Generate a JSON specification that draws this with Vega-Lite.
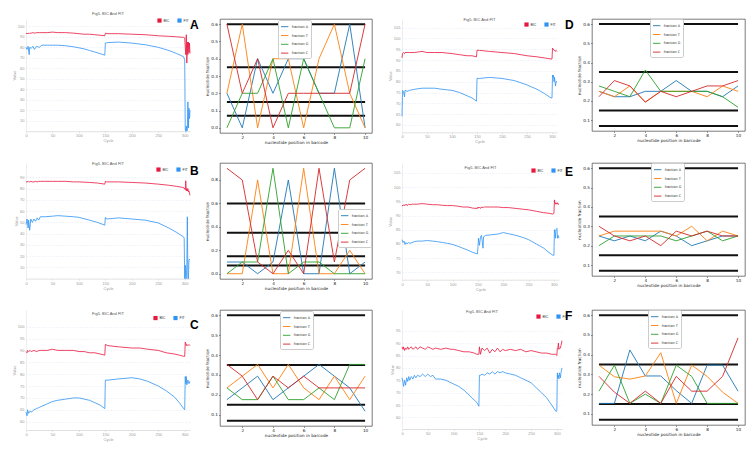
{
"$schema": "https://vega.github.io/schema/vega-lite/v6.json",
"background": "white",
"padding": {"left": 12, "top": 12, "right": 0, "bottom": 0},
"config": {"view": {"stroke": null}, "font": "DejaVu Sans", "axis": {"labelOverlap": false, "labelFlush": false}},
"datasets": {
"hl": [{"h": 0.6, "x1": 1, "x2": 10}, {"h": 0.35, "x1": 1, "x2": 10}, {"h": 0.15, "x1": 1, "x2": 10}, {"h": 0.07, "x1": 1, "x2": 10}],
"fracA": [{"pos":1,"A":0.2,"T":0.2,"G":0,"C":0.6},{"pos":2,"A":0,"T":0.6,"G":0.2,"C":0.2},{"pos":3,"A":0.4,"T":0,"G":0.2,"C":0.4},{"pos":4,"A":0.2,"T":0.4,"G":0.4,"C":0},{"pos":5,"A":0.4,"T":0.4,"G":0,"C":0.2},{"pos":6,"A":0.4,"T":0,"G":0.4,"C":0.2},{"pos":7,"A":0.2,"T":0.4,"G":0.2,"C":0.2},{"pos":8,"A":0.2,"T":0.6,"G":0,"C":0.2},{"pos":9,"A":0.6,"T":0.2,"G":0,"C":0.2},{"pos":10,"A":0,"T":0,"G":0.4,"C":0.6}],
"fracB": [{"pos":1,"A":0.1,"T":0,"G":0,"C":0.9},{"pos":2,"A":0.1,"T":0,"G":0.1,"C":0.8},{"pos":3,"A":0,"T":0.8,"G":0.1,"C":0.1},{"pos":4,"A":0.1,"T":0,"G":0.9,"C":0},{"pos":5,"A":0.8,"T":0,"G":0,"C":0.2},{"pos":6,"A":0,"T":0.9,"G":0.1,"C":0},{"pos":7,"A":0,"T":0,"G":0.1,"C":0.9},{"pos":8,"A":0.9,"T":0,"G":0,"C":0.1},{"pos":9,"A":0,"T":0.2,"G":0,"C":0.8},{"pos":10,"A":0.1,"T":0,"G":0,"C":0.9}],
"fracC": [{"pos":1,"A":0.176,"T":0.235,"G":0.235,"C":0.353},{"pos":2,"A":0.235,"T":0.294,"G":0.176,"C":0.294},{"pos":3,"A":0.294,"T":0.353,"G":0.176,"C":0.176},{"pos":4,"A":0.176,"T":0.235,"G":0.294,"C":0.294},{"pos":5,"A":0.235,"T":0.353,"G":0.176,"C":0.235},{"pos":6,"A":0.294,"T":0.235,"G":0.176,"C":0.294},{"pos":7,"A":0.353,"T":0.176,"G":0.235,"C":0.235},{"pos":8,"A":0.294,"T":0.294,"G":0.176,"C":0.235},{"pos":9,"A":0.235,"T":0.176,"G":0.353,"C":0.235},{"pos":10,"A":0.118,"T":0.294,"G":0.353,"C":0.235}],
"fracD": [{"pos":1,"A":0.25,"T":0.25,"G":0.278,"C":0.222},{"pos":2,"A":0.222,"T":0.222,"G":0.25,"C":0.306},{"pos":3,"A":0.222,"T":0.278,"G":0.222,"C":0.278},{"pos":4,"A":0.25,"T":0.194,"G":0.361,"C":0.194},{"pos":5,"A":0.25,"T":0.25,"G":0.25,"C":0.25},{"pos":6,"A":0.306,"T":0.25,"G":0.25,"C":0.222},{"pos":7,"A":0.25,"T":0.25,"G":0.25,"C":0.25},{"pos":8,"A":0.25,"T":0.222,"G":0.25,"C":0.278},{"pos":9,"A":0.222,"T":0.278,"G":0.222,"C":0.278},{"pos":10,"A":0.278,"T":0.25,"G":0.167,"C":0.306}],
"fracE": [{"pos":1,"A":0.25,"T":0.25,"G":0.2,"C":0.3},{"pos":2,"A":0.225,"T":0.275,"G":0.25,"C":0.25},{"pos":3,"A":0.25,"T":0.275,"G":0.25,"C":0.225},{"pos":4,"A":0.225,"T":0.275,"G":0.25,"C":0.25},{"pos":5,"A":0.275,"T":0.275,"G":0.25,"C":0.2},{"pos":6,"A":0.25,"T":0.25,"G":0.225,"C":0.275},{"pos":7,"A":0.2,"T":0.3,"G":0.25,"C":0.25},{"pos":8,"A":0.225,"T":0.225,"G":0.275,"C":0.275},{"pos":9,"A":0.25,"T":0.275,"G":0.225,"C":0.25},{"pos":10,"A":0.25,"T":0.25,"G":0.25,"C":0.25}],
"fracF": [{"pos":1,"A":0.153,"T":0.347,"G":0.215,"C":0.29},{"pos":2,"A":0.153,"T":0.288,"G":0.347,"C":0.21},{"pos":3,"A":0.424,"T":0.276,"G":0.153,"C":0.153},{"pos":4,"A":0.292,"T":0.292,"G":0.2,"C":0.215},{"pos":5,"A":0.292,"T":0.41,"G":0.153,"C":0.153},{"pos":6,"A":0.218,"T":0.153,"G":0.347,"C":0.29},{"pos":7,"A":0.153,"T":0.347,"G":0.29,"C":0.215},{"pos":8,"A":0.347,"T":0.29,"G":0.153,"C":0.215},{"pos":9,"A":0.347,"T":0.21,"G":0.153,"C":0.29},{"pos":10,"A":0.215,"T":0.153,"G":0.153,"C":0.485}],
"lineA": [{"c":0,"BIC":93.5,"FIT":80},{"c":2,"BIC":93,"FIT":78},{"c":4,"BIC":93.5,"FIT":81},{"c":6,"BIC":93,"FIT":73},{"c":7,"BIC":93.5,"FIT":80},{"c":10,"BIC":93.5,"FIT":79},{"c":13,"BIC":94,"FIT":81},{"c":16,"BIC":93.5,"FIT":78},{"c":20,"BIC":94,"FIT":81},{"c":25,"BIC":94,"FIT":80},{"c":30,"BIC":94,"FIT":82},{"c":40,"BIC":94,"FIT":82},{"c":50,"BIC":94.5,"FIT":82},{"c":60,"BIC":94,"FIT":82},{"c":75,"BIC":94,"FIT":81.5},{"c":90,"BIC":93.5,"FIT":80.5},{"c":100,"BIC":93,"FIT":79.5},{"c":110,"BIC":92.5,"FIT":78.5},{"c":120,"BIC":92.5,"FIT":77},{"c":130,"BIC":92,"FIT":75.5},{"c":140,"BIC":91.5,"FIT":74},{"c":149,"BIC":91,"FIT":72.5},{"c":150,"BIC":93.5,"FIT":84},{"c":155,"BIC":93,"FIT":84.5},{"c":175,"BIC":93,"FIT":85},{"c":200,"BIC":92.5,"FIT":84},{"c":225,"BIC":92,"FIT":82.5},{"c":250,"BIC":91,"FIT":80},{"c":270,"BIC":90.5,"FIT":77},{"c":285,"BIC":90,"FIT":74},{"c":298,"BIC":89.5,"FIT":71},{"c":300,"BIC":89,"FIT":68},{"c":301,"BIC":80,"FIT":2},{"c":302,"BIC":73,"FIT":0},{"c":303,"BIC":92,"FIT":5},{"c":304,"BIC":65,"FIT":0},{"c":305,"BIC":85,"FIT":1},{"c":306,"BIC":73,"FIT":28},{"c":307,"BIC":85,"FIT":3},{"c":308,"BIC":75,"FIT":22},{"c":309,"BIC":84,"FIT":12},{"c":310,"BIC":74,"FIT":20}],
"lineB": [{"c":0,"BIC":86,"FIT":48},{"c":2,"BIC":86,"FIT":53},{"c":4,"BIC":86.5,"FIT":45},{"c":5,"BIC":86,"FIT":52},{"c":7,"BIC":86,"FIT":43},{"c":9,"BIC":86.5,"FIT":53},{"c":12,"BIC":86,"FIT":50},{"c":15,"BIC":86,"FIT":53},{"c":18,"BIC":86.5,"FIT":51},{"c":21,"BIC":86,"FIT":54},{"c":24,"BIC":86.5,"FIT":52},{"c":27,"BIC":86.5,"FIT":55},{"c":35,"BIC":86.5,"FIT":55},{"c":50,"BIC":86.5,"FIT":55.5},{"c":60,"BIC":86.5,"FIT":56},{"c":75,"BIC":86.5,"FIT":55.5},{"c":90,"BIC":86,"FIT":55},{"c":100,"BIC":86,"FIT":54.5},{"c":120,"BIC":85.5,"FIT":52},{"c":135,"BIC":85,"FIT":50},{"c":149,"BIC":84,"FIT":47.5},{"c":150,"BIC":86.5,"FIT":54.5},{"c":152,"BIC":86,"FIT":53},{"c":175,"BIC":86,"FIT":54},{"c":200,"BIC":85.5,"FIT":53},{"c":225,"BIC":85,"FIT":52},{"c":250,"BIC":84,"FIT":49.5},{"c":270,"BIC":83,"FIT":45},{"c":285,"BIC":82,"FIT":41},{"c":298,"BIC":81,"FIT":37},{"c":299,"BIC":80,"FIT":36},{"c":300,"BIC":80.5,"FIT":0},{"c":301,"BIC":79,"FIT":12},{"c":302,"BIC":87,"FIT":0},{"c":303,"BIC":78,"FIT":0},{"c":304,"BIC":80,"FIT":12},{"c":305,"BIC":78,"FIT":55},{"c":306,"BIC":80,"FIT":0},{"c":307,"BIC":77,"FIT":0},{"c":308,"BIC":78,"FIT":17},{"c":310,"BIC":74,"FIT":17}],
"lineC": [{"c":0,"BIC":89.5,"FIT":64},{"c":2,"BIC":89,"FIT":62.5},{"c":3,"BIC":90,"FIT":65},{"c":5,"BIC":89.5,"FIT":63.5},{"c":8,"BIC":90,"FIT":64.5},{"c":10,"BIC":89.5,"FIT":64},{"c":15,"BIC":90,"FIT":65},{"c":20,"BIC":89.5,"FIT":65.5},{"c":25,"BIC":90,"FIT":66},{"c":30,"BIC":90,"FIT":66.5},{"c":40,"BIC":90,"FIT":67.5},{"c":50,"BIC":90.5,"FIT":68.5},{"c":60,"BIC":90,"FIT":69},{"c":75,"BIC":90,"FIT":69.5},{"c":90,"BIC":90,"FIT":70},{"c":100,"BIC":89.5,"FIT":70},{"c":110,"BIC":89.5,"FIT":69.5},{"c":120,"BIC":89,"FIT":69},{"c":130,"BIC":89,"FIT":68},{"c":140,"BIC":88.5,"FIT":67},{"c":149,"BIC":88,"FIT":65.5},{"c":150,"BIC":92.5,"FIT":77.5},{"c":155,"BIC":92,"FIT":77.5},{"c":175,"BIC":91.5,"FIT":78},{"c":200,"BIC":91,"FIT":78.5},{"c":215,"BIC":91,"FIT":78},{"c":230,"BIC":90.5,"FIT":77},{"c":250,"BIC":90,"FIT":75},{"c":265,"BIC":89,"FIT":73},{"c":280,"BIC":88.5,"FIT":70.5},{"c":290,"BIC":88,"FIT":68},{"c":298,"BIC":87.5,"FIT":65.5},{"c":300,"BIC":87.5,"FIT":65},{"c":301,"BIC":93.5,"FIT":79},{"c":302,"BIC":93,"FIT":76},{"c":303,"BIC":92,"FIT":79},{"c":304,"BIC":92.5,"FIT":75.5},{"c":306,"BIC":92,"FIT":77.5},{"c":308,"BIC":92.5,"FIT":76},{"c":310,"BIC":92,"FIT":77}],
"lineD": [{"c":0,"BIC":91,"FIT":64},{"c":1,"BIC":93,"FIT":76},{"c":3,"BIC":93.5,"FIT":75.5},{"c":5,"BIC":93,"FIT":73},{"c":6,"BIC":93.5,"FIT":76},{"c":10,"BIC":93.5,"FIT":75.5},{"c":15,"BIC":93.5,"FIT":76},{"c":25,"BIC":93.5,"FIT":76.5},{"c":40,"BIC":94,"FIT":77},{"c":50,"BIC":93.5,"FIT":77},{"c":65,"BIC":93.5,"FIT":77},{"c":80,"BIC":93.5,"FIT":76.5},{"c":100,"BIC":93,"FIT":76},{"c":115,"BIC":92.5,"FIT":75},{"c":130,"BIC":92,"FIT":73.5},{"c":140,"BIC":92,"FIT":72.5},{"c":149,"BIC":91.5,"FIT":71},{"c":150,"BIC":94.5,"FIT":81.5},{"c":155,"BIC":94.5,"FIT":81.5},{"c":175,"BIC":94,"FIT":82},{"c":200,"BIC":93.5,"FIT":81.5},{"c":225,"BIC":93,"FIT":80.5},{"c":250,"BIC":92,"FIT":78.5},{"c":270,"BIC":91.5,"FIT":76.5},{"c":285,"BIC":91,"FIT":74.5},{"c":298,"BIC":90.5,"FIT":72.5},{"c":300,"BIC":90.5,"FIT":72.5},{"c":301,"BIC":95.5,"FIT":83},{"c":302,"BIC":95,"FIT":82},{"c":303,"BIC":95,"FIT":83},{"c":304,"BIC":94.5,"FIT":80},{"c":305,"BIC":94.5,"FIT":82},{"c":307,"BIC":94,"FIT":78},{"c":308,"BIC":94.5,"FIT":80},{"c":310,"BIC":94,"FIT":80}],
"lineE": [{"c":0,"BIC":93.5,"FIT":81.5},{"c":2,"BIC":93.5,"FIT":80.5},{"c":4,"BIC":93.8,"FIT":81},{"c":6,"BIC":93.5,"FIT":79.8},{"c":8,"BIC":94,"FIT":80.5},{"c":10,"BIC":93.5,"FIT":80},{"c":13,"BIC":94,"FIT":80.5},{"c":16,"BIC":93.8,"FIT":80.2},{"c":20,"BIC":94,"FIT":80.5},{"c":25,"BIC":94,"FIT":80.8},{"c":30,"BIC":94,"FIT":81},{"c":40,"BIC":94.2,"FIT":81},{"c":50,"BIC":94,"FIT":81.2},{"c":60,"BIC":93.8,"FIT":81},{"c":70,"BIC":93.8,"FIT":80.8},{"c":80,"BIC":93.6,"FIT":80.5},{"c":90,"BIC":93.5,"FIT":80.2},{"c":100,"BIC":93.5,"FIT":79.8},{"c":110,"BIC":93.3,"FIT":79.2},{"c":120,"BIC":93,"FIT":78.5},{"c":130,"BIC":93,"FIT":77.8},{"c":140,"BIC":92.6,"FIT":77},{"c":149,"BIC":92.5,"FIT":76.5},{"c":150,"BIC":93,"FIT":79},{"c":151,"BIC":92.6,"FIT":82},{"c":153,"BIC":93,"FIT":79.5},{"c":155,"BIC":92.5,"FIT":82.5},{"c":157,"BIC":93,"FIT":83},{"c":160,"BIC":92.8,"FIT":78.5},{"c":161,"BIC":93,"FIT":82.5},{"c":165,"BIC":93,"FIT":83},{"c":175,"BIC":93,"FIT":83.2},{"c":190,"BIC":93,"FIT":83.5},{"c":200,"BIC":92.8,"FIT":84},{"c":210,"BIC":92.8,"FIT":83.6},{"c":225,"BIC":92.5,"FIT":83},{"c":240,"BIC":92.2,"FIT":82.2},{"c":250,"BIC":92,"FIT":81.5},{"c":265,"BIC":91.5,"FIT":80},{"c":280,"BIC":91,"FIT":78.5},{"c":290,"BIC":90.8,"FIT":77},{"c":298,"BIC":90.5,"FIT":76},{"c":300,"BIC":90.8,"FIT":76},{"c":301,"BIC":95.5,"FIT":85},{"c":302,"BIC":94.5,"FIT":84},{"c":303,"BIC":94,"FIT":82},{"c":304,"BIC":94.5,"FIT":85},{"c":306,"BIC":94,"FIT":85.5},{"c":307,"BIC":94.5,"FIT":82},{"c":308,"BIC":94,"FIT":83},{"c":310,"BIC":94,"FIT":82}],
"lineF": [{"c":0,"BIC":88.5,"FIT":76},{"c":2,"BIC":87.5,"FIT":74},{"c":3,"BIC":88.5,"FIT":72.5},{"c":5,"BIC":87,"FIT":75},{"c":7,"BIC":88,"FIT":73},{"c":9,"BIC":87.5,"FIT":76},{"c":11,"BIC":88.5,"FIT":74.5},{"c":13,"BIC":87.5,"FIT":76.5},{"c":15,"BIC":88,"FIT":75},{"c":18,"BIC":88.5,"FIT":76.5},{"c":21,"BIC":87.5,"FIT":75.5},{"c":24,"BIC":88,"FIT":77},{"c":27,"BIC":88.5,"FIT":76},{"c":30,"BIC":87.5,"FIT":77},{"c":35,"BIC":88.5,"FIT":76.5},{"c":40,"BIC":88,"FIT":77.5},{"c":45,"BIC":87.5,"FIT":76.5},{"c":50,"BIC":88.5,"FIT":77.5},{"c":55,"BIC":88,"FIT":76.5},{"c":60,"BIC":87.5,"FIT":77},{"c":65,"BIC":88,"FIT":75.5},{"c":75,"BIC":87.5,"FIT":75.5},{"c":85,"BIC":88,"FIT":75},{"c":95,"BIC":87.5,"FIT":74},{"c":100,"BIC":87.5,"FIT":73.5},{"c":110,"BIC":87,"FIT":72.5},{"c":120,"BIC":86.5,"FIT":71},{"c":130,"BIC":86.5,"FIT":69},{"c":140,"BIC":86,"FIT":67},{"c":145,"BIC":85.5,"FIT":66},{"c":149,"BIC":85.5,"FIT":64.5},{"c":150,"BIC":88.5,"FIT":77},{"c":152,"BIC":85.5,"FIT":77},{"c":155,"BIC":88,"FIT":77.5},{"c":160,"BIC":87,"FIT":77},{"c":165,"BIC":88,"FIT":78},{"c":170,"BIC":86,"FIT":77.5},{"c":175,"BIC":87.5,"FIT":78.5},{"c":180,"BIC":86.5,"FIT":77.5},{"c":185,"BIC":88,"FIT":78.5},{"c":190,"BIC":86.5,"FIT":78},{"c":195,"BIC":87.5,"FIT":78.5},{"c":200,"BIC":87,"FIT":78},{"c":210,"BIC":87.5,"FIT":77.5},{"c":220,"BIC":87,"FIT":77},{"c":230,"BIC":87.5,"FIT":76},{"c":240,"BIC":86.5,"FIT":75},{"c":250,"BIC":87,"FIT":74},{"c":260,"BIC":86.5,"FIT":72},{"c":270,"BIC":86,"FIT":70},{"c":280,"BIC":86,"FIT":68},{"c":290,"BIC":85.5,"FIT":65},{"c":298,"BIC":85.5,"FIT":62.5},{"c":300,"BIC":85,"FIT":62.5},{"c":301,"BIC":88,"FIT":78},{"c":302,"BIC":88,"FIT":76},{"c":303,"BIC":90,"FIT":77},{"c":304,"BIC":87.5,"FIT":75.5},{"c":305,"BIC":88,"FIT":78},{"c":307,"BIC":88,"FIT":76},{"c":308,"BIC":89,"FIT":78},{"c":310,"BIC":91,"FIT":80}]
},
"columns": 4,
"spacing": {"row": 30, "column": 30},
"bounds": "flush",
"align": "each",
"resolve": {"scale": {"color": "independent", "x": "independent", "y": "independent"}, "legend": {"color": "independent"}},
"concat": [
{"width": 164, "height": 112.2,
 "title": {"text": "Fig5. BIC And FIT", "fontSize": 4, "fontWeight": "normal", "color": "#555", "font": "Liberation Sans", "anchor": "middle", "frame": "group", "offset": 2},
 "data": {"name": "lineA"}, "transform": [{"fold": ["BIC", "FIT"], "as": ["series", "value"]}],
 "mark": {"type": "line", "strokeWidth": 0.8},
 "encoding": {
  "x": {"field": "c", "type": "quantitative", "scale": {"domain": [0, 310], "nice": false, "zero": false}, "axis": {"title": "Cycle", "values": [0,50,100,150,200,250,300], "tickCount": 20, "format": "d", "grid": false, "domainColor": "#ccc", "domainWidth": 0.6, "tickColor": "#ccc", "tickSize": 1.5, "tickWidth": 0.5, "labelFontSize": 4, "labelColor": "#999", "labelFont": "Liberation Sans", "labelPadding": 1, "titleFontSize": 4, "titleColor": "#999", "titleFont": "Liberation Sans", "titleFontWeight": "normal", "titlePadding": 1}},
  "y": {"field": "value", "type": "quantitative", "scale": {"domain": [0, 107], "nice": false, "zero": false}, "axis": {"title": "Value", "values": [10,20,30,40,50,60,70,80,90,100], "tickCount": 20, "format": "d", "grid": true, "gridColor": "#dde3ee", "gridDash": [1.5, 1.5], "gridWidth": 0.5, "domainColor": "#ddd", "domainWidth": 0.5, "ticks": false, "labelFontSize": 4, "labelColor": "#999", "labelFont": "Liberation Sans", "labelPadding": 2, "titleFontSize": 4, "titleColor": "#999", "titleFont": "Liberation Sans", "titleFontWeight": "normal", "titlePadding": 1}},
  "color": {"field": "series", "type": "nominal", "scale": {"domain": ["BIC", "FIT"], "range": ["#e8173f", "#2f93f4"]}, "legend": {"title": null, "orient": "none", "legendX": 131, "legendY": -1, "direction": "horizontal", "symbolType": "square", "symbolSize": 4, "symbolStrokeWidth": 2.2, "labelFontSize": 3.5, "labelColor": "#333", "labelFont": "Liberation Sans", "labelOffset": 1.5, "columnPadding": 4, "padding": 0}}
 }},
{"width": 152, "height": 114, "view": {"stroke": "#444", "strokeWidth": 0.7},
 "title": {"text": "A", "fontSize": 12, "fontWeight": "bold", "font": "Liberation Sans", "color": "#000", "anchor": "start", "frame": "group", "dx": -30, "offset": -12.7},
 "layer": [
  {"data": {"name": "hl"}, "mark": {"type": "rule", "color": "#111", "strokeWidth": 2},
   "encoding": {"x": {"field": "x1", "type": "quantitative", "scale": {"domain": [0.55, 10.45], "nice": false, "zero": false}, "axis": {"title": "nucleotide position in barcode", "values": [2,4,6,8,10], "tickCount": 20, "format": "d", "grid": false, "domain": false, "tickColor": "#333", "tickSize": 1.5, "tickWidth": 0.5, "labelFontSize": 4.2, "labelColor": "#222", "labelPadding": 1, "titleFontSize": 4.2, "titleColor": "#222", "titleFontWeight": "normal", "titlePadding": 1}}, "x2": {"field": "x2"},
    "y": {"field": "h", "type": "quantitative", "scale": {"domain": [-0.03, 0.63], "nice": false, "zero": false}, "axis": {"title": "nucleotide fraction", "values": [0,0.1,0.2,0.3,0.4,0.5,0.6], "tickCount": 20, "format": ".1f", "grid": false, "domain": false, "tickColor": "#333", "tickSize": 1.5, "tickWidth": 0.5, "labelFontSize": 4.2, "labelColor": "#222", "labelPadding": 1, "titleFontSize": 4.2, "titleColor": "#222", "titleFontWeight": "normal", "titlePadding": 1.5}}}},
  {"data": {"name": "fracA"}, "transform": [{"fold": ["A", "T", "G", "C"], "as": ["base", "frac"]}], "mark": {"type": "line", "strokeWidth": 0.9},
   "encoding": {"x": {"field": "pos", "type": "quantitative", "scale": {"domain": [0.55, 10.45], "nice": false, "zero": false}}, "y": {"field": "frac", "type": "quantitative", "scale": {"domain": [-0.03, 0.63], "nice": false, "zero": false}},
    "color": {"field": "base", "type": "nominal", "scale": {"domain": ["A", "T", "G", "C"], "range": ["#1f77b4", "#ff7f0e", "#2ca02c", "#d62728"]}, "legend": {"title": null, "orient": "none", "legendX": 58, "legendY": 1, "symbolType": "stroke", "symbolSize": 55, "symbolStrokeWidth": 0.9, "labelFontSize": 3.4, "labelColor": "#222", "labelOffset": 2.5, "rowPadding": 1.8, "padding": 2.2, "strokeColor": "#ccc", "fillColor": "white", "cornerRadius": 1.5, "labelExpr": "'fraction ' + datum.label"}}}}
 ]},
{"width": 155, "height": 113.3,
 "title": {"text": "Fig5. BIC And FIT", "fontSize": 4, "fontWeight": "normal", "color": "#555", "font": "Liberation Sans", "anchor": "middle", "frame": "group", "offset": -3.3},
 "data": {"name": "lineD"}, "transform": [{"fold": ["BIC", "FIT"], "as": ["series", "value"]}],
 "mark": {"type": "line", "strokeWidth": 0.8},
 "encoding": {
  "x": {"field": "c", "type": "quantitative", "scale": {"domain": [0, 310], "nice": false, "zero": false}, "axis": {"title": "Cycle", "values": [0,50,100,150,200,250,300], "tickCount": 20, "format": "d", "grid": false, "domainColor": "#ccc", "domainWidth": 0.6, "tickColor": "#ccc", "tickSize": 1.5, "tickWidth": 0.5, "labelFontSize": 4, "labelColor": "#999", "labelFont": "Liberation Sans", "labelPadding": 1, "titleFontSize": 4, "titleColor": "#999", "titleFont": "Liberation Sans", "titleFontWeight": "normal", "titlePadding": 1}},
  "y": {"field": "value", "type": "quantitative", "scale": {"domain": [56.6, 109], "nice": false, "zero": false}, "axis": {"title": "Value", "values": [60,65,70,75,80,85,90,95,100,105], "tickCount": 20, "format": "d", "grid": true, "gridColor": "#dde3ee", "gridDash": [1.5, 1.5], "gridWidth": 0.5, "domainColor": "#ddd", "domainWidth": 0.5, "ticks": false, "labelFontSize": 4, "labelColor": "#999", "labelFont": "Liberation Sans", "labelPadding": 2, "titleFontSize": 4, "titleColor": "#999", "titleFont": "Liberation Sans", "titleFontWeight": "normal", "titlePadding": 1}},
  "color": {"field": "series", "type": "nominal", "scale": {"domain": ["BIC", "FIT"], "range": ["#e8173f", "#2f93f4"]}, "legend": {"title": null, "orient": "none", "legendX": 122, "legendY": 3, "direction": "horizontal", "symbolType": "square", "symbolSize": 4, "symbolStrokeWidth": 2.2, "labelFontSize": 3.5, "labelColor": "#333", "labelFont": "Liberation Sans", "labelOffset": 1.5, "columnPadding": 4, "padding": 0}}
 }},
{"width": 153, "height": 112, "view": {"stroke": "#444", "strokeWidth": 0.7},
 "title": {"text": "D", "fontSize": 12, "fontWeight": "bold", "font": "Liberation Sans", "color": "#000", "anchor": "start", "frame": "group", "dx": -27, "offset": -13.4},
 "layer": [
  {"data": {"name": "hl"}, "mark": {"type": "rule", "color": "#111", "strokeWidth": 2},
   "encoding": {"x": {"field": "x1", "type": "quantitative", "scale": {"domain": [0.55, 10.45], "nice": false, "zero": false}, "axis": {"title": "nucleotide position in barcode", "values": [2,4,6,8,10], "tickCount": 20, "format": "d", "grid": false, "domain": false, "tickColor": "#333", "tickSize": 1.5, "tickWidth": 0.5, "labelFontSize": 4.2, "labelColor": "#222", "labelPadding": 1, "titleFontSize": 4.2, "titleColor": "#222", "titleFontWeight": "normal", "titlePadding": 1}}, "x2": {"field": "x2"},
    "y": {"field": "h", "type": "quantitative", "scale": {"domain": [0.0435, 0.6265], "nice": false, "zero": false}, "axis": {"title": "nucleotide fraction", "values": [0.1,0.2,0.3,0.4,0.5,0.6], "tickCount": 20, "format": ".1f", "grid": false, "domain": false, "tickColor": "#333", "tickSize": 1.5, "tickWidth": 0.5, "labelFontSize": 4.2, "labelColor": "#222", "labelPadding": 1, "titleFontSize": 4.2, "titleColor": "#222", "titleFontWeight": "normal", "titlePadding": 1.5}}}},
  {"data": {"name": "fracD"}, "transform": [{"fold": ["A", "T", "G", "C"], "as": ["base", "frac"]}], "mark": {"type": "line", "strokeWidth": 0.9},
   "encoding": {"x": {"field": "pos", "type": "quantitative", "scale": {"domain": [0.55, 10.45], "nice": false, "zero": false}}, "y": {"field": "frac", "type": "quantitative", "scale": {"domain": [0.0435, 0.6265], "nice": false, "zero": false}},
    "color": {"field": "base", "type": "nominal", "scale": {"domain": ["A", "T", "G", "C"], "range": ["#1f77b4", "#ff7f0e", "#2ca02c", "#d62728"]}, "legend": {"title": null, "orient": "none", "legendX": 58, "legendY": 0, "symbolType": "stroke", "symbolSize": 55, "symbolStrokeWidth": 0.9, "labelFontSize": 3.4, "labelColor": "#222", "labelOffset": 2.5, "rowPadding": 1.8, "padding": 2.2, "strokeColor": "#ccc", "fillColor": "white", "cornerRadius": 1.5, "labelExpr": "'fraction ' + datum.label"}}}}
 ]},
{"width": 164, "height": 115.6,
 "title": {"text": "Fig5. BIC And FIT", "fontSize": 4, "fontWeight": "normal", "color": "#555", "font": "Liberation Sans", "anchor": "middle", "frame": "group", "offset": -3.3},
 "data": {"name": "lineB"}, "transform": [{"fold": ["BIC", "FIT"], "as": ["series", "value"]}],
 "mark": {"type": "line", "strokeWidth": 0.8},
 "encoding": {
  "x": {"field": "c", "type": "quantitative", "scale": {"domain": [0, 310], "nice": false, "zero": false}, "axis": {"title": "Cycle", "values": [0,50,100,150,200,250,300], "tickCount": 20, "format": "d", "grid": false, "domainColor": "#ccc", "domainWidth": 0.6, "tickColor": "#ccc", "tickSize": 1.5, "tickWidth": 0.5, "labelFontSize": 4, "labelColor": "#999", "labelFont": "Liberation Sans", "labelPadding": 1, "titleFontSize": 4, "titleColor": "#999", "titleFont": "Liberation Sans", "titleFontWeight": "normal", "titlePadding": 1}},
  "y": {"field": "value", "type": "quantitative", "scale": {"domain": [0, 102.8], "nice": false, "zero": false}, "axis": {"title": "Value", "values": [10,20,30,40,50,60,70,80,90], "tickCount": 20, "format": "d", "grid": true, "gridColor": "#dde3ee", "gridDash": [1.5, 1.5], "gridWidth": 0.5, "domainColor": "#ddd", "domainWidth": 0.5, "ticks": false, "labelFontSize": 4, "labelColor": "#999", "labelFont": "Liberation Sans", "labelPadding": 2, "titleFontSize": 4, "titleColor": "#999", "titleFont": "Liberation Sans", "titleFontWeight": "normal", "titlePadding": 1}},
  "color": {"field": "series", "type": "nominal", "scale": {"domain": ["BIC", "FIT"], "range": ["#e8173f", "#2f93f4"]}, "legend": {"title": null, "orient": "none", "legendX": 130, "legendY": 4, "direction": "horizontal", "symbolType": "square", "symbolSize": 4, "symbolStrokeWidth": 2.2, "labelFontSize": 3.5, "labelColor": "#333", "labelFont": "Liberation Sans", "labelOffset": 1.5, "columnPadding": 4, "padding": 0}}
 }},
{"width": 152, "height": 116, "view": {"stroke": "#444", "strokeWidth": 0.7},
 "title": {"text": "B", "fontSize": 12, "fontWeight": "bold", "font": "Liberation Sans", "color": "#000", "anchor": "start", "frame": "group", "dx": -30, "offset": -15.4},
 "layer": [
  {"data": {"name": "hl"}, "mark": {"type": "rule", "color": "#111", "strokeWidth": 2},
   "encoding": {"x": {"field": "x1", "type": "quantitative", "scale": {"domain": [0.55, 10.45], "nice": false, "zero": false}, "axis": {"title": "nucleotide position in barcode", "values": [2,4,6,8,10], "tickCount": 20, "format": "d", "grid": false, "domain": false, "tickColor": "#333", "tickSize": 1.5, "tickWidth": 0.5, "labelFontSize": 4.2, "labelColor": "#222", "labelPadding": 1, "titleFontSize": 4.2, "titleColor": "#222", "titleFontWeight": "normal", "titlePadding": 1}}, "x2": {"field": "x2"},
    "y": {"field": "h", "type": "quantitative", "scale": {"domain": [-0.045, 0.945], "nice": false, "zero": false}, "axis": {"title": "nucleotide fraction", "values": [0,0.2,0.4,0.6,0.8], "tickCount": 20, "format": ".1f", "grid": false, "domain": false, "tickColor": "#333", "tickSize": 1.5, "tickWidth": 0.5, "labelFontSize": 4.2, "labelColor": "#222", "labelPadding": 1, "titleFontSize": 4.2, "titleColor": "#222", "titleFontWeight": "normal", "titlePadding": 1.5}}}},
  {"data": {"name": "fracB"}, "transform": [{"fold": ["A", "T", "G", "C"], "as": ["base", "frac"]}], "mark": {"type": "line", "strokeWidth": 0.9},
   "encoding": {"x": {"field": "pos", "type": "quantitative", "scale": {"domain": [0.55, 10.45], "nice": false, "zero": false}}, "y": {"field": "frac", "type": "quantitative", "scale": {"domain": [-0.045, 0.945], "nice": false, "zero": false}},
    "color": {"field": "base", "type": "nominal", "scale": {"domain": ["A", "T", "G", "C"], "range": ["#1f77b4", "#ff7f0e", "#2ca02c", "#d62728"]}, "legend": {"title": null, "orient": "none", "legendX": 118, "legendY": 46, "symbolType": "stroke", "symbolSize": 55, "symbolStrokeWidth": 0.9, "labelFontSize": 3.4, "labelColor": "#222", "labelOffset": 2.5, "rowPadding": 1.8, "padding": 2.2, "strokeColor": "#ccc", "fillColor": "white", "cornerRadius": 1.5, "labelExpr": "'fraction ' + datum.label"}}}}
 ]},
{"width": 157, "height": 116.7,
 "title": {"text": "Fig5. BIC And FIT", "fontSize": 4, "fontWeight": "normal", "color": "#555", "font": "Liberation Sans", "anchor": "middle", "frame": "group", "offset": -6.7},
 "data": {"name": "lineE"}, "transform": [{"fold": ["BIC", "FIT"], "as": ["series", "value"]}],
 "mark": {"type": "line", "strokeWidth": 0.8},
 "encoding": {
  "x": {"field": "c", "type": "quantitative", "scale": {"domain": [0, 310], "nice": false, "zero": false}, "axis": {"title": "Cycle", "values": [0,50,100,150,200,250,300], "tickCount": 20, "format": "d", "grid": false, "domainColor": "#ccc", "domainWidth": 0.6, "tickColor": "#ccc", "tickSize": 1.5, "tickWidth": 0.5, "labelFontSize": 4, "labelColor": "#999", "labelFont": "Liberation Sans", "labelPadding": 1, "titleFontSize": 4, "titleColor": "#999", "titleFont": "Liberation Sans", "titleFontWeight": "normal", "titlePadding": 1}},
  "y": {"field": "value", "type": "quantitative", "scale": {"domain": [67.4, 108.5], "nice": false, "zero": false}, "axis": {"title": "Value", "values": [70,75,80,85,90,95,100,105], "tickCount": 20, "format": "d", "grid": true, "gridColor": "#dde3ee", "gridDash": [1.5, 1.5], "gridWidth": 0.5, "domainColor": "#ddd", "domainWidth": 0.5, "ticks": false, "labelFontSize": 4, "labelColor": "#999", "labelFont": "Liberation Sans", "labelPadding": 2, "titleFontSize": 4, "titleColor": "#999", "titleFont": "Liberation Sans", "titleFontWeight": "normal", "titlePadding": 1}},
  "color": {"field": "series", "type": "nominal", "scale": {"domain": ["BIC", "FIT"], "range": ["#e8173f", "#2f93f4"]}, "legend": {"title": null, "orient": "none", "legendX": 129, "legendY": 5, "direction": "horizontal", "symbolType": "square", "symbolSize": 4, "symbolStrokeWidth": 2.2, "labelFontSize": 3.5, "labelColor": "#333", "labelFont": "Liberation Sans", "labelOffset": 1.5, "columnPadding": 4, "padding": 0}}
 }},
{"width": 153, "height": 113, "view": {"stroke": "#444", "strokeWidth": 0.7},
 "title": {"text": "E", "fontSize": 12, "fontWeight": "bold", "font": "Liberation Sans", "color": "#000", "anchor": "start", "frame": "group", "dx": -27, "offset": -16.4},
 "layer": [
  {"data": {"name": "hl"}, "mark": {"type": "rule", "color": "#111", "strokeWidth": 2},
   "encoding": {"x": {"field": "x1", "type": "quantitative", "scale": {"domain": [0.55, 10.45], "nice": false, "zero": false}, "axis": {"title": "nucleotide position in barcode", "values": [2,4,6,8,10], "tickCount": 20, "format": "d", "grid": false, "domain": false, "tickColor": "#333", "tickSize": 1.5, "tickWidth": 0.5, "labelFontSize": 4.2, "labelColor": "#222", "labelPadding": 1, "titleFontSize": 4.2, "titleColor": "#222", "titleFontWeight": "normal", "titlePadding": 1}}, "x2": {"field": "x2"},
    "y": {"field": "h", "type": "quantitative", "scale": {"domain": [0.0435, 0.6265], "nice": false, "zero": false}, "axis": {"title": "nucleotide fraction", "values": [0.1,0.2,0.3,0.4,0.5,0.6], "tickCount": 20, "format": ".1f", "grid": false, "domain": false, "tickColor": "#333", "tickSize": 1.5, "tickWidth": 0.5, "labelFontSize": 4.2, "labelColor": "#222", "labelPadding": 1, "titleFontSize": 4.2, "titleColor": "#222", "titleFontWeight": "normal", "titlePadding": 1.5}}}},
  {"data": {"name": "fracE"}, "transform": [{"fold": ["A", "T", "G", "C"], "as": ["base", "frac"]}], "mark": {"type": "line", "strokeWidth": 0.9},
   "encoding": {"x": {"field": "pos", "type": "quantitative", "scale": {"domain": [0.55, 10.45], "nice": false, "zero": false}}, "y": {"field": "frac", "type": "quantitative", "scale": {"domain": [0.0435, 0.6265], "nice": false, "zero": false}},
    "color": {"field": "base", "type": "nominal", "scale": {"domain": ["A", "T", "G", "C"], "range": ["#1f77b4", "#ff7f0e", "#2ca02c", "#d62728"]}, "legend": {"title": null, "orient": "none", "legendX": 59, "legendY": 0, "symbolType": "stroke", "symbolSize": 55, "symbolStrokeWidth": 0.9, "labelFontSize": 3.4, "labelColor": "#222", "labelOffset": 2.5, "rowPadding": 1.8, "padding": 2.2, "strokeColor": "#ccc", "fillColor": "white", "cornerRadius": 1.5, "labelExpr": "'fraction ' + datum.label"}}}}
 ]},
{"width": 164, "height": 120,
 "title": {"text": "Fig5. BIC And FIT", "fontSize": 4, "fontWeight": "normal", "color": "#555", "font": "Liberation Sans", "anchor": "middle", "frame": "group", "offset": -5.6},
 "data": {"name": "lineC"}, "transform": [{"fold": ["BIC", "FIT"], "as": ["series", "value"]}],
 "mark": {"type": "line", "strokeWidth": 0.8},
 "encoding": {
  "x": {"field": "c", "type": "quantitative", "scale": {"domain": [0, 310], "nice": false, "zero": false}, "axis": {"title": "Cycle", "values": [0,50,100,150,200,250,300], "tickCount": 20, "format": "d", "grid": false, "domainColor": "#ccc", "domainWidth": 0.6, "tickColor": "#ccc", "tickSize": 1.5, "tickWidth": 0.5, "labelFontSize": 4, "labelColor": "#999", "labelFont": "Liberation Sans", "labelPadding": 1, "titleFontSize": 4, "titleColor": "#999", "titleFont": "Liberation Sans", "titleFontWeight": "normal", "titlePadding": 1}},
  "y": {"field": "value", "type": "quantitative", "scale": {"domain": [56.5, 107], "nice": false, "zero": false}, "axis": {"title": "Value", "values": [60,65,70,75,80,85,90,95,100], "tickCount": 20, "format": "d", "grid": true, "gridColor": "#dde3ee", "gridDash": [1.5, 1.5], "gridWidth": 0.5, "domainColor": "#ddd", "domainWidth": 0.5, "ticks": false, "labelFontSize": 4, "labelColor": "#999", "labelFont": "Liberation Sans", "labelPadding": 2, "titleFontSize": 4, "titleColor": "#999", "titleFont": "Liberation Sans", "titleFontWeight": "normal", "titlePadding": 1}},
  "color": {"field": "series", "type": "nominal", "scale": {"domain": ["BIC", "FIT"], "range": ["#e8173f", "#2f93f4"]}, "legend": {"title": null, "orient": "none", "legendX": 127, "legendY": 5.5, "direction": "horizontal", "symbolType": "square", "symbolSize": 4, "symbolStrokeWidth": 2.2, "labelFontSize": 3.5, "labelColor": "#333", "labelFont": "Liberation Sans", "labelOffset": 1.5, "columnPadding": 4, "padding": 0}}
 }},
{"width": 152, "height": 116, "view": {"stroke": "#444", "strokeWidth": 0.7},
 "title": {"text": "C", "fontSize": 12, "fontWeight": "bold", "font": "Liberation Sans", "color": "#000", "anchor": "start", "frame": "group", "dx": -30, "offset": -21.7},
 "layer": [
  {"data": {"name": "hl"}, "mark": {"type": "rule", "color": "#111", "strokeWidth": 2},
   "encoding": {"x": {"field": "x1", "type": "quantitative", "scale": {"domain": [0.55, 10.45], "nice": false, "zero": false}, "axis": {"title": "nucleotide position in barcode", "values": [2,4,6,8,10], "tickCount": 20, "format": "d", "grid": false, "domain": false, "tickColor": "#333", "tickSize": 1.5, "tickWidth": 0.5, "labelFontSize": 4.2, "labelColor": "#222", "labelPadding": 1, "titleFontSize": 4.2, "titleColor": "#222", "titleFontWeight": "normal", "titlePadding": 1}}, "x2": {"field": "x2"},
    "y": {"field": "h", "type": "quantitative", "scale": {"domain": [0.0435, 0.6265], "nice": false, "zero": false}, "axis": {"title": "nucleotide fraction", "values": [0.1,0.2,0.3,0.4,0.5,0.6], "tickCount": 20, "format": ".1f", "grid": false, "domain": false, "tickColor": "#333", "tickSize": 1.5, "tickWidth": 0.5, "labelFontSize": 4.2, "labelColor": "#222", "labelPadding": 1, "titleFontSize": 4.2, "titleColor": "#222", "titleFontWeight": "normal", "titlePadding": 1.5}}}},
  {"data": {"name": "fracC"}, "transform": [{"fold": ["A", "T", "G", "C"], "as": ["base", "frac"]}], "mark": {"type": "line", "strokeWidth": 0.9},
   "encoding": {"x": {"field": "pos", "type": "quantitative", "scale": {"domain": [0.55, 10.45], "nice": false, "zero": false}}, "y": {"field": "frac", "type": "quantitative", "scale": {"domain": [0.0435, 0.6265], "nice": false, "zero": false}},
    "color": {"field": "base", "type": "nominal", "scale": {"domain": ["A", "T", "G", "C"], "range": ["#1f77b4", "#ff7f0e", "#2ca02c", "#d62728"]}, "legend": {"title": null, "orient": "none", "legendX": 60, "legendY": 1, "symbolType": "stroke", "symbolSize": 55, "symbolStrokeWidth": 0.9, "labelFontSize": 3.4, "labelColor": "#222", "labelOffset": 2.5, "rowPadding": 1.8, "padding": 2.2, "strokeColor": "#ccc", "fillColor": "white", "cornerRadius": 1.5, "labelExpr": "'fraction ' + datum.label"}}}}
 ]},
{"width": 160, "height": 119,
 "title": {"text": "Fig5. BIC And FIT", "fontSize": 4, "fontWeight": "normal", "color": "#555", "font": "Liberation Sans", "anchor": "middle", "frame": "group", "offset": -4},
 "data": {"name": "lineF"}, "transform": [{"fold": ["BIC", "FIT"], "as": ["series", "value"]}],
 "mark": {"type": "line", "strokeWidth": 0.8},
 "encoding": {
  "x": {"field": "c", "type": "quantitative", "scale": {"domain": [0, 310], "nice": false, "zero": false}, "axis": {"title": "Cycle", "values": [0,50,100,150,200,250,300], "tickCount": 20, "format": "d", "grid": false, "domainColor": "#ccc", "domainWidth": 0.6, "tickColor": "#ccc", "tickSize": 1.5, "tickWidth": 0.5, "labelFontSize": 4, "labelColor": "#999", "labelFont": "Liberation Sans", "labelPadding": 1, "titleFontSize": 4, "titleColor": "#999", "titleFont": "Liberation Sans", "titleFontWeight": "normal", "titlePadding": 1}},
  "y": {"field": "value", "type": "quantitative", "scale": {"domain": [55.3, 103.4], "nice": false, "zero": false}, "axis": {"title": "Value", "values": [60,65,70,75,80,85,90,95], "tickCount": 20, "format": "d", "grid": true, "gridColor": "#dde3ee", "gridDash": [1.5, 1.5], "gridWidth": 0.5, "domainColor": "#ddd", "domainWidth": 0.5, "ticks": false, "labelFontSize": 4, "labelColor": "#999", "labelFont": "Liberation Sans", "labelPadding": 2, "titleFontSize": 4, "titleColor": "#999", "titleFont": "Liberation Sans", "titleFontWeight": "normal", "titlePadding": 1}},
  "color": {"field": "series", "type": "nominal", "scale": {"domain": ["BIC", "FIT"], "range": ["#e8173f", "#2f93f4"]}, "legend": {"title": null, "orient": "none", "legendX": 134, "legendY": 4, "direction": "horizontal", "symbolType": "square", "symbolSize": 4, "symbolStrokeWidth": 2.2, "labelFontSize": 3.5, "labelColor": "#333", "labelFont": "Liberation Sans", "labelOffset": 1.5, "columnPadding": 4, "padding": 0}}
 }},
{"width": 153, "height": 115, "view": {"stroke": "#444", "strokeWidth": 0.7},
 "title": {"text": "F", "fontSize": 12, "fontWeight": "bold", "font": "Liberation Sans", "color": "#000", "anchor": "start", "frame": "group", "dx": -27, "offset": -13.7},
 "layer": [
  {"data": {"name": "hl"}, "mark": {"type": "rule", "color": "#111", "strokeWidth": 2},
   "encoding": {"x": {"field": "x1", "type": "quantitative", "scale": {"domain": [0.55, 10.45], "nice": false, "zero": false}, "axis": {"title": "nucleotide position in barcode", "values": [2,4,6,8,10], "tickCount": 20, "format": "d", "grid": false, "domain": false, "tickColor": "#333", "tickSize": 1.5, "tickWidth": 0.5, "labelFontSize": 4.2, "labelColor": "#222", "labelPadding": 1, "titleFontSize": 4.2, "titleColor": "#222", "titleFontWeight": "normal", "titlePadding": 1}}, "x2": {"field": "x2"},
    "y": {"field": "h", "type": "quantitative", "scale": {"domain": [0.0435, 0.6265], "nice": false, "zero": false}, "axis": {"title": "nucleotide fraction", "values": [0.1,0.2,0.3,0.4,0.5,0.6], "tickCount": 20, "format": ".1f", "grid": false, "domain": false, "tickColor": "#333", "tickSize": 1.5, "tickWidth": 0.5, "labelFontSize": 4.2, "labelColor": "#222", "labelPadding": 1, "titleFontSize": 4.2, "titleColor": "#222", "titleFontWeight": "normal", "titlePadding": 1.5}}}},
  {"data": {"name": "fracF"}, "transform": [{"fold": ["A", "T", "G", "C"], "as": ["base", "frac"]}], "mark": {"type": "line", "strokeWidth": 0.9},
   "encoding": {"x": {"field": "pos", "type": "quantitative", "scale": {"domain": [0.55, 10.45], "nice": false, "zero": false}}, "y": {"field": "frac", "type": "quantitative", "scale": {"domain": [0.0435, 0.6265], "nice": false, "zero": false}},
    "color": {"field": "base", "type": "nominal", "scale": {"domain": ["A", "T", "G", "C"], "range": ["#1f77b4", "#ff7f0e", "#2ca02c", "#d62728"]}, "legend": {"title": null, "orient": "none", "legendX": 56, "legendY": 0, "symbolType": "stroke", "symbolSize": 55, "symbolStrokeWidth": 0.9, "labelFontSize": 3.4, "labelColor": "#222", "labelOffset": 2.5, "rowPadding": 1.8, "padding": 2.2, "strokeColor": "#ccc", "fillColor": "white", "cornerRadius": 1.5, "labelExpr": "'fraction ' + datum.label"}}}}
 ]}
]
}
